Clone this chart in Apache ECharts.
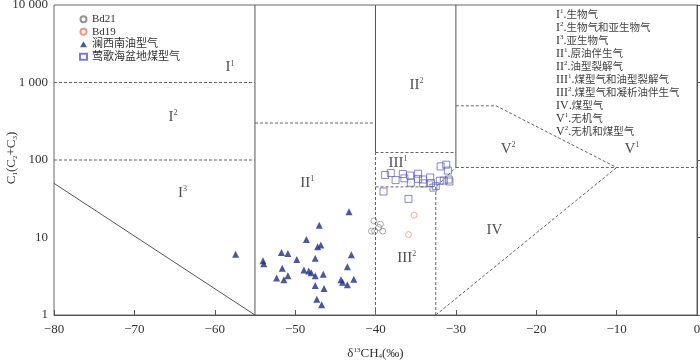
<!DOCTYPE html>
<html>
<head>
<meta charset="utf-8">
<script src="https://cdn.jsdelivr.net/npm/echarts@6/dist/echarts.min.js"></script>
<style>
  html, body { margin: 0; padding: 0; background: #fff; }
  #chart { width: 700px; height: 363px; }
</style>
</head>
<body>
<div id="chart"></div>
<script>
// 数据: [δ13CH4, C1/(C2+C3)]
var bd21 = [[-40.2, 16.4], [-39.4, 14.8], [-39.6, 13.5], [-40.5, 12.1], [-40.1, 12.1], [-39.1, 12.1]];
var bd19 = [[-35.2, 19.4], [-35.9, 10.9]];
var lanxinan = [
  [-43.3, 21.5], [-47.0, 14.4], [-48.6, 9.4], [-47.2, 7.6], [-46.8, 8.0], [-57.4, 6.1],
  [-51.7, 6.4], [-50.9, 6.2], [-43.0, 6.0], [-54.0, 5.0], [-53.9, 4.6], [-49.8, 5.2],
  [-47.5, 5.4], [-43.5, 4.2], [-51.6, 4.0], [-48.9, 3.8], [-48.3, 3.7], [-48.0, 3.5],
  [-46.5, 3.35], [-47.5, 3.2], [-50.9, 3.2], [-52.3, 3.0], [-51.4, 2.85], [-44.3, 2.85],
  [-42.7, 2.9], [-44.1, 2.65], [-43.5, 2.45], [-47.5, 2.4], [-46.4, 2.2], [-47.3, 1.6],
  [-46.7, 1.36]
];
var yinggehai = [
  [-38.8, 64], [-38.1, 68], [-37.5, 55], [-36.6, 66], [-36.4, 58], [-35.7, 63],
  [-35.6, 51], [-34.7, 66.5], [-34.7, 57], [-34.1, 56], [-34.1, 50], [-33.2, 59.5],
  [-33.1, 50.5], [-32.8, 44], [-32.0, 54], [-31.5, 54.3], [-30.9, 56], [-30.8, 52.8],
  [-31.9, 82.6], [-31.2, 87], [-31.0, 73], [-39.0, 39.2], [-35.9, 31.5], [-32.5, 46]
];

// 分区边界
var solidLines = [
  [[-55, 1], [-55, 10000]],
  [[-80, 50], [-55, 1]],
  [[-40, 125], [-40, 10000]],
  [[-30, 80], [-30, 10000]]
];
var dashedLines = [
  [[-80, 1000], [-55, 1000]],
  [[-80, 100], [-55, 100]],
  [[-55, 300], [-40, 300]],
  [[-40, 1], [-40, 125]],
  [[-40, 125], [-30, 125]],
  [[-40, 45], [-32.5, 45]],
  [[-32.5, 1], [-32.5, 45], [-30, 80]],
  [[-30, 80], [0, 80]],
  [[-30, 500], [-25, 500], [-10, 80]],
  [[-32.5, 1], [-10, 80]]
];

// 分区标注
var zoneNames = ['I', 'I', 'I', 'II', 'II', 'III', 'III', 'IV', 'V', 'V'];
var zoneSups = ['1', '2', '3', '1', '2', '1', '2', '', '2', '1'];
var zonePos = [[-58.1, 1560], [-65.2, 361], [-64.0, 37.5], [-48.5, 50.5], [-34.9, 940],
  [-37.2, 91.7], [-36.1, 5.4], [-25.2, 12.4], [-23.5, 139], [-8.1, 139]];

var legendCodes = ['I', 'I', 'I', 'II', 'II', 'III', 'III', 'IV', 'V', 'V'];
var legendSups = ['1', '2', '3', '1', '2', '1', '2', '', '1', '2'];
var legendDesc = ['生物气', '生物气和亚生物气', '亚生物气', '原油伴生气', '油型裂解气',
  '煤型气和油型裂解气', '煤型气和凝析油伴生气', '煤型气', '无机气', '无机和煤型气'];

var serif = '"Liberation Serif", "Times New Roman", "Noto Sans CJK SC", serif';

var chart = echarts.init(document.getElementById('chart'));

var series = [];
solidLines.forEach(function (l) {
  series.push({
    type: 'line', data: l, symbol: 'none', silent: true, animation: false,
    lineStyle: { color: '#555', width: 1, type: 'solid' }
  });
});
dashedLines.forEach(function (l) {
  series.push({
    type: 'line', data: l, symbol: 'none', silent: true, animation: false,
    lineStyle: { color: '#666', width: 1, type: [3, 2] }
  });
});

var zoneData = zonePos.map(function (p, i) {
  return { value: p, label: { formatter: '{n|' + zoneNames[i] + '}' + (zoneSups[i] ? '{s|' + zoneSups[i] + '}' : '') } };
});
series.push({
  type: 'scatter', data: zoneData, symbolSize: 0, silent: true, animation: false,
  label: {
    show: true, position: 'inside', color: '#222',
    rich: {
      n: { fontFamily: serif, fontSize: 15, lineHeight: 16, color: '#222' },
      s: { fontFamily: serif, fontSize: 8, lineHeight: 8, verticalAlign: 'top', color: '#222' }
    }
  }
});

series.push({
  name: 'Bd21', type: 'scatter', data: bd21, symbol: 'circle', symbolSize: 6,
  itemStyle: { color: 'rgba(255,255,255,0)', borderColor: '#777', borderWidth: 0.8 }
});
series.push({
  name: 'Bd19', type: 'scatter', data: bd19, symbol: 'circle', symbolSize: 6,
  itemStyle: { color: 'rgba(255,255,255,0)', borderColor: '#f07c6a', borderWidth: 0.8 }
});
series.push({
  name: '澜西南油型气', type: 'scatter', data: lanxinan, symbol: 'triangle', symbolSize: 7,
  itemStyle: { color: '#1f2e84' }
});
series.push({
  name: '莺歌海盆地煤型气', type: 'scatter', data: yinggehai, symbol: 'rect', symbolSize: 7,
  itemStyle: { color: 'rgba(255,255,255,0)', borderColor: '#5a5cb4', borderWidth: 0.9 }
});

var legendText = legendCodes.map(function (c, i) {
  return '{n|' + c + '}' + (legendSups[i] ? '{s|' + legendSups[i] + '}' : '') + '{n|.}{t|' + legendDesc[i] + '}';
}).join('\n');

chart.setOption({
  animation: false,
  grid: {
    left: 54, right: 3, top: 5, bottom: 48, outerBoundsMode: 'none', containLabel: false,
    show: true, borderColor: '#666', borderWidth: 1
  },
  legend: {
    data: ['Bd21', 'Bd19', '澜西南油型气', '莺歌海盆地煤型气'],
    orient: 'vertical', left: 74, top: 8, itemWidth: 7, itemHeight: 6, itemGap: 0,
    textStyle: { fontFamily: serif, fontSize: 11, color: '#333', lineHeight: 12.5 }
  },
  xAxis: {
    type: 'value', min: -80, max: 0, interval: 10,
    name: 'δ{sup|13}CH{sub|4}(‰)', nameLocation: 'middle', nameGap: 32,
    nameTextStyle: {
      fontFamily: serif, fontSize: 13, color: '#333',
      rich: {
        sup: { fontFamily: serif, fontSize: 7, verticalAlign: 'top', lineHeight: 7, color: '#333' },
        sub: { fontFamily: serif, fontSize: 7, verticalAlign: 'bottom', lineHeight: 7, color: '#333' }
      }
    },
    axisLine: { lineStyle: { color: '#555' } },
    axisTick: { inside: true, length: 5, lineStyle: { color: '#555' } },
    axisLabel: {
      fontFamily: serif, fontSize: 13, color: '#333', margin: 8,
      formatter: function (v) { return String(v).replace('-', '\u2212'); }
    },
    splitLine: { show: false }
  },
  yAxis: {
    type: 'log', logBase: 10, min: 1, max: 10000,
    axisLine: { show: true, lineStyle: { color: '#555' } },
    axisTick: { show: true, inside: true, length: 5, lineStyle: { color: '#555' } },
    axisLabel: {
      fontFamily: serif, fontSize: 13, color: '#333', margin: 6,
      formatter: function (v) { return v >= 1000 ? String(v).replace(/(\d)(?=(\d{3})+$)/g, '$1 ') : String(v); }
    },
    minorTick: { show: false },
    splitLine: { show: false }
  },
  graphic: [{
    type: 'text', left: 556, top: 8,
    style: {
      text: legendText,
      rich: {
        n: { fontFamily: serif, fontSize: 12, lineHeight: 13, fill: '#333' },
        s: { fontFamily: serif, fontSize: 7, lineHeight: 7, verticalAlign: 'top', fill: '#333' },
        t: { fontFamily: '"Noto Sans CJK SC", sans-serif', fontSize: 10.5, lineHeight: 13, fill: '#444' }
      }
    }
  }, {
    type: 'text', x: 12, y: 158, rotation: Math.PI / 2,
    style: {
      text: '{n|C}{b|1}{n|(C}{b|2}{n|+C}{b|3}{n|)}', align: 'center', verticalAlign: 'middle',
      rich: {
        n: { fontFamily: serif, fontSize: 13, lineHeight: 14, fill: '#333' },
        b: { fontFamily: serif, fontSize: 7, lineHeight: 7, verticalAlign: 'bottom', fill: '#333' }
      }
    }
  }],
  series: series
});
</script>
</body>
</html>
